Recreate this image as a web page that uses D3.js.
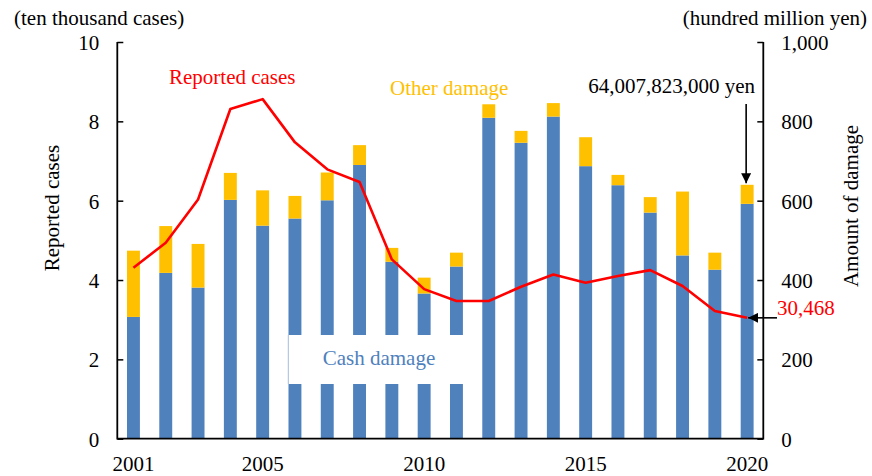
<!DOCTYPE html>
<html>
<head>
<meta charset="utf-8">
<script src="https://cdn.jsdelivr.net/npm/d3@7"></script>
<style>
  html, body { margin: 0; padding: 0; background: #fff; }
  svg { display: block; }
  text { font-family: "Liberation Serif", "Times New Roman", serif; }
</style>
</head>
<body>
<svg id="chart" width="872" height="476"></svg>
<script>
// ---- data ----
const years = [2001,2002,2003,2004,2005,2006,2007,2008,2009,2010,2011,2012,2013,2014,2015,2016,2017,2018,2019,2020];
// cash damage (hundred million yen)
const cashDamage = [307,418,381,602,537,555,601,690,446,366,434,809,746,812,687,639,570,462,426,592];
// other damage (hundred million yen)
const otherDamage = [167,118,110,68,89,57,70,50,35,40,35,34,30,34,73,26,39,161,43,48];
// reported cases (ten thousand cases)
const reportedCases = [4.31,4.94,6.03,8.31,8.56,7.47,6.79,6.47,4.52,3.77,3.47,3.47,3.83,4.14,3.93,4.10,4.25,3.85,3.22,3.0468];
const leftTicks = [0,2,4,6,8,10];
const rightTicks = [0,200,400,600,800,1000];
const xTickYears = [2001,2005,2010,2015,2020];

const BLUE = "#4F81BD", ORANGE = "#FFC000", RED = "#FF0000";
const FS = "21px";

const svg = d3.select("#chart");
const X0 = 117.3, X1 = 763.3, Y0 = 438.7, Y1 = 42;

const x = d3.scaleBand().domain(years).range([X0, X1]).paddingInner(0.6).paddingOuter(0.3);
const yL = d3.scaleLinear().domain([0, 10]).range([Y0, Y1]);
const yR = d3.scaleLinear().domain([0, 1000]).range([Y0, Y1]);

// stacked bars
const rows = years.map((y, i) => ({ year: y, cash: cashDamage[i], other: otherDamage[i] }));
const stack = d3.stack().keys(["cash", "other"])(rows);
const colors = { cash: BLUE, other: ORANGE };
svg.append("g").selectAll("g").data(stack).join("g")
  .attr("fill", d => colors[d.key])
  .selectAll("rect").data(d => d).join("rect")
  .attr("x", d => x(d.data.year))
  .attr("width", x.bandwidth())
  .attr("y", d => yR(d[1]))
  .attr("height", d => yR(d[0]) - yR(d[1]));

// cash damage label box
const boxX = x(2006) - 0.2, boxRight = x(2012) - 3;
svg.append("rect").attr("x", boxX).attr("y", 335).attr("width", boxRight - boxX).attr("height", 49).attr("fill", "#fff");
svg.append("line").attr("x1", boxX).attr("x2", boxX).attr("y1", 335).attr("y2", 384).attr("stroke", "#A9C0E0").attr("stroke-width", 1);
svg.append("text").attr("x", 379).attr("y", 365).attr("text-anchor", "middle").attr("fill", BLUE).style("font-size", FS).text("Cash damage");

// reported cases line
const line = d3.line().x((d, i) => x(years[i]) + x.bandwidth() / 2).y(d => yL(d));
svg.append("path").datum(reportedCases).attr("d", line)
  .attr("fill", "none").attr("stroke", RED).attr("stroke-width", 2.6).attr("stroke-linejoin", "round");

// axes
const axL = svg.append("g").attr("transform", `translate(${X0},0)`)
  .call(d3.axisRight(yL).tickValues(leftTicks).tickSize(6).tickFormat(d3.format("d")));
axL.select(".domain").remove();
axL.selectAll(".tick line").attr("stroke", "#000").attr("stroke-width", 1.5);
axL.selectAll(".tick text").attr("x", -18).attr("text-anchor", "end").style("font-size", FS).attr("fill", "#000").attr("dy", "0.35em");

const axR = svg.append("g").attr("transform", `translate(${X1},0)`)
  .call(d3.axisLeft(yR).tickValues(rightTicks).tickSize(6).tickFormat(d3.format(",")));
axR.select(".domain").remove();
axR.selectAll(".tick line").attr("stroke", "#000").attr("stroke-width", 1.5);
axR.selectAll(".tick text").attr("x", 18).attr("text-anchor", "start").style("font-size", FS).attr("fill", "#000").attr("dy", "0.35em");

// frame lines (left, right, bottom)
svg.append("path").attr("d", `M${X0},${Y1}V${Y0}H${X1}V${Y1}`).attr("fill", "none").attr("stroke", "#000").attr("stroke-width", 1.8);

// x axis labels
const axB = svg.append("g").attr("transform", `translate(0,${Y0})`)
  .call(d3.axisBottom(x).tickValues(xTickYears).tickSize(0));
axB.select(".domain").remove();
axB.selectAll(".tick text").attr("y", 32).attr("dy", 0).style("font-size", FS).attr("fill", "#000");

// units
svg.append("text").attr("x", 14).attr("y", 25).style("font-size", FS).text("(ten thousand cases)");
svg.append("text").attr("x", 867).attr("y", 25).attr("text-anchor", "end").style("font-size", FS).text("(hundred million yen)");

// axis titles
svg.append("text").attr("transform", "translate(59,208) rotate(-90)").attr("text-anchor", "middle").style("font-size", FS).text("Reported cases");
svg.append("text").attr("transform", "translate(858,206) rotate(-90)").attr("text-anchor", "middle").style("font-size", FS).text("Amount of damage");

// series labels
svg.append("text").attr("x", 169).attr("y", 84).attr("fill", RED).style("font-size", FS).text("Reported cases");
svg.append("text").attr("x", 390).attr("y", 95).attr("fill", ORANGE).style("font-size", FS).text("Other damage");

// arrow markers
const defs = svg.append("defs");
defs.append("marker").attr("id", "ah").attr("viewBox", "0 0 10 10").attr("refX", 10).attr("refY", 5)
  .attr("markerWidth", 10).attr("markerHeight", 10).attr("markerUnits", "userSpaceOnUse").attr("orient", "auto")
  .append("path").attr("d", "M0,0L10,5L0,10Z").attr("fill", "#000");

// 2020 total annotation
const cx2020 = x(2020) + x.bandwidth() / 2;
svg.append("line").attr("x1", cx2020 - 1).attr("x2", cx2020 - 1).attr("y1", 104)
  .attr("y2", yR(cashDamage[19] + otherDamage[19]) - 1.5)
  .attr("stroke", "#000").attr("stroke-width", 1.6).attr("marker-end", "url(#ah)");
svg.append("text").attr("x", 755).attr("y", 93).attr("text-anchor", "end").style("font-size", FS).text("64,007,823,000 yen");

// 2020 cases annotation
const py = yL(reportedCases[19]);
svg.append("line").attr("x1", 777).attr("x2", cx2020 + 1).attr("y1", py).attr("y2", py)
  .attr("stroke", "#000").attr("stroke-width", 1.6).attr("marker-end", "url(#ah)");
svg.append("text").attr("x", 777).attr("y", 315).attr("fill", RED).style("font-size", FS).text("30,468");
</script>
</body>
</html>
